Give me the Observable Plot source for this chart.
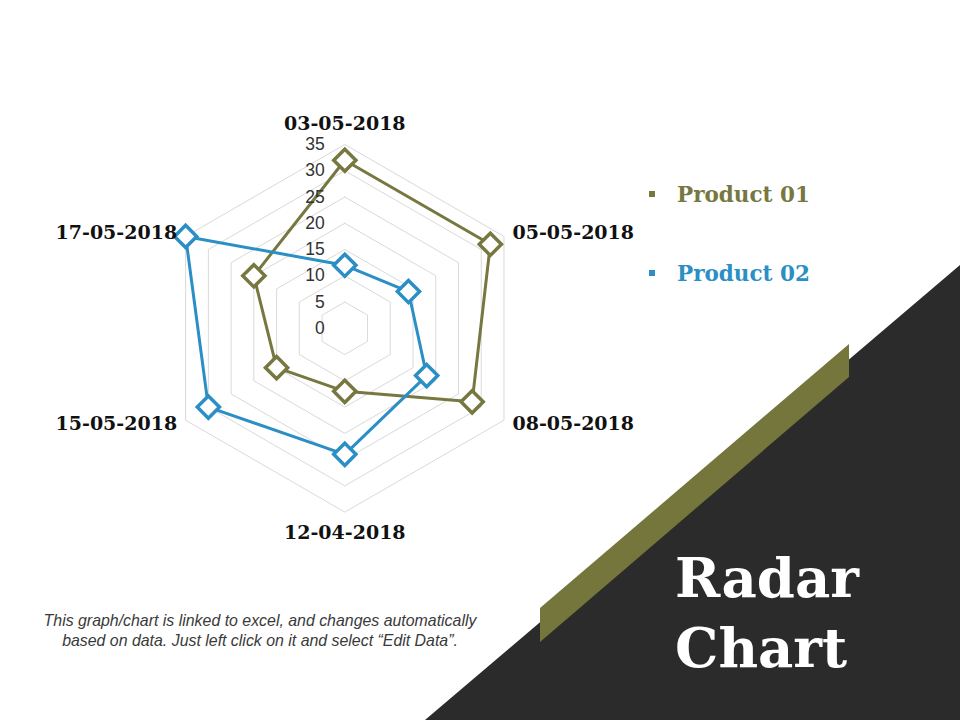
<!DOCTYPE html>
<html>
<head>
<meta charset="utf-8">
<script src="https://cdn.jsdelivr.net/npm/d3@7"></script>
<script src="https://cdn.jsdelivr.net/npm/@observablehq/plot@0.6"></script>
<style>
  body { margin: 0; background: #fff; }
  #stage { position: relative; width: 960px; height: 720px; overflow: hidden; background: #fff; }
  #chart { position: absolute; left: 0; top: 0; }
  .tri { position: absolute; left: 0; top: 0; width: 960px; height: 720px; background: #2b2b2b;
         clip-path: polygon(425px 720px, 960px 265px, 960px 720px); }
  .band { position: absolute; left: 0; top: 0; width: 960px; height: 720px; background: #74763c;
          clip-path: polygon(540px 608px, 849px 344px, 849px 377px, 540px 642px); }
  .legend-item { position: absolute; left: 649px; font-family: "DejaVu Serif", Georgia, serif; font-weight: bold;
                 font-size: 21.5px; line-height: 24px; white-space: nowrap; }
  .legend-item .sw { display: inline-block; width: 6px; height: 6px; margin-right: 22px; vertical-align: middle; position: relative; top: -2px; }
  .title { position: absolute; left: 675px; color: #fff; font-family: "DejaVu Serif", Georgia, serif; font-weight: bold;
           font-size: 54.5px; line-height: 56px; white-space: nowrap; }
  .caption { position: absolute; left: 20px; width: 480px; top: 611px; text-align: center; font-family: "Liberation Sans", Arial, sans-serif;
             font-style: italic; font-size: 15.9px; line-height: 20px; color: #3a3a3a; }
</style>
</head>
<body>
<div id="stage">
  <div id="chart"></div>
  <div class="tri"></div>
  <div class="band"></div>
  <div id="legend"></div>
  <div class="title" style="top:550px">Radar</div>
  <div class="title" style="top:620px">Chart</div>
  <div class="caption">This graph/chart is linked to excel, and changes automatically<br>based on data. Just left click on it and select “Edit Data”.</div>
</div>
<script>
// ---- data ----
const categories = ["03-05-2018", "05-05-2018", "08-05-2018", "12-04-2018", "15-05-2018", "17-05-2018"];
const product01 = [32, 32, 28, 12, 15, 20];
const product02 = [12, 14, 18, 24, 30, 35];
const seriesNames = ["Product 01", "Product 02"];
const seriesColors = ["#76783f", "#2b8fc6"];
const tickValues = [0, 5, 10, 15, 20, 25, 30, 35];

// ---- layout ----
const W = 960, H = 720;
const cx = 344.3, cy = 327.8;           // centre of radar in px
const rMax = 35, rPx = 183.8;           // outer ring radius
const k = rPx / rMax;                   // px per unit

const n = categories.length;
const ang = i => (i % n) * 2 * Math.PI / n;
const px = (r, i) => r * Math.sin(ang(i));
const py = (r, i) => r * Math.cos(ang(i));

// grid rings
const rings = [];
for (const t of tickValues.slice(1)) {
  for (let i = 0; i <= n; i++) rings.push({ring: t, x: px(t, i), y: py(t, i)});
}

// series
const seriesValues = [product01, product02];
const lineData = [], dotData = [];
seriesNames.forEach((s, si) => {
  const vals = seriesValues[si];
  for (let i = 0; i <= n; i++) {
    const v = vals[i % n];
    const d = {series: s, x: px(v, i), y: py(v, i)};
    lineData.push(d);
    if (i < n) dotData.push(d);
  }
});

const labelData = categories.map((c, i) => ({c, i, x: px(rMax, i), y: py(rMax, i)}));
const labelCfg = [
  {i: 0, anchor: "middle", dx: 0, dy: -21},
  {i: 1, anchor: "start", dx: 8.5, dy: -3},
  {i: 2, anchor: "start", dx: 8.5, dy: 4},
  {i: 3, anchor: "middle", dx: 0, dy: 21},
  {i: 4, anchor: "end", dx: -8.5, dy: 4},
  {i: 5, anchor: "end", dx: -8.5, dy: -3}
];

const labelFont = "'DejaVu Serif', Georgia, serif";

const chart = Plot.plot({
  width: W, height: H, margin: 0,
  style: {background: "transparent"},
  x: {domain: [-cx / k, (W - cx) / k], range: [0, W], axis: null},
  y: {domain: [-(H - cy) / k, cy / k], range: [H, 0], axis: null},
  color: {domain: seriesNames, range: seriesColors},
  marks: [
    Plot.line(rings, {x: "x", y: "y", z: "ring", stroke: "#d9d9d9", strokeWidth: 1}),
    Plot.line(lineData, {x: "x", y: "y", z: "series", stroke: "series", strokeWidth: 3, strokeLinejoin: "miter"}),
    Plot.dot(dotData, {x: "x", y: "y", stroke: "series", fill: "white", symbol: "diamond2", r: 10, strokeWidth: 3.5}),
    Plot.text(tickValues, {x: d => 0, y: d => d, text: d => String(d), textAnchor: "end", dx: -20,
      fontSize: 17.5, fontFamily: "'Liberation Sans', Arial, sans-serif", fill: "#333"}),
    ...labelCfg.map(cfg => Plot.text(labelData.filter(d => d.i === cfg.i), {
      x: "x", y: "y", text: "c", textAnchor: cfg.anchor, dx: cfg.dx, dy: cfg.dy,
      fontSize: 19, fontWeight: "bold", fontFamily: labelFont, fill: "#111"
    }))
  ]
});
document.getElementById("chart").appendChild(chart);

// legend
const legend = document.getElementById("legend");
const legendTops = [183, 262];
seriesNames.forEach((s, i) => {
  const item = document.createElement("div");
  item.className = "legend-item";
  item.style.top = legendTops[i] + "px";
  item.style.color = seriesColors[i];
  const sw = document.createElement("span");
  sw.className = "sw";
  sw.style.background = seriesColors[i];
  item.appendChild(sw);
  item.appendChild(document.createTextNode(s));
  legend.appendChild(item);
});
</script>
</body>
</html>
